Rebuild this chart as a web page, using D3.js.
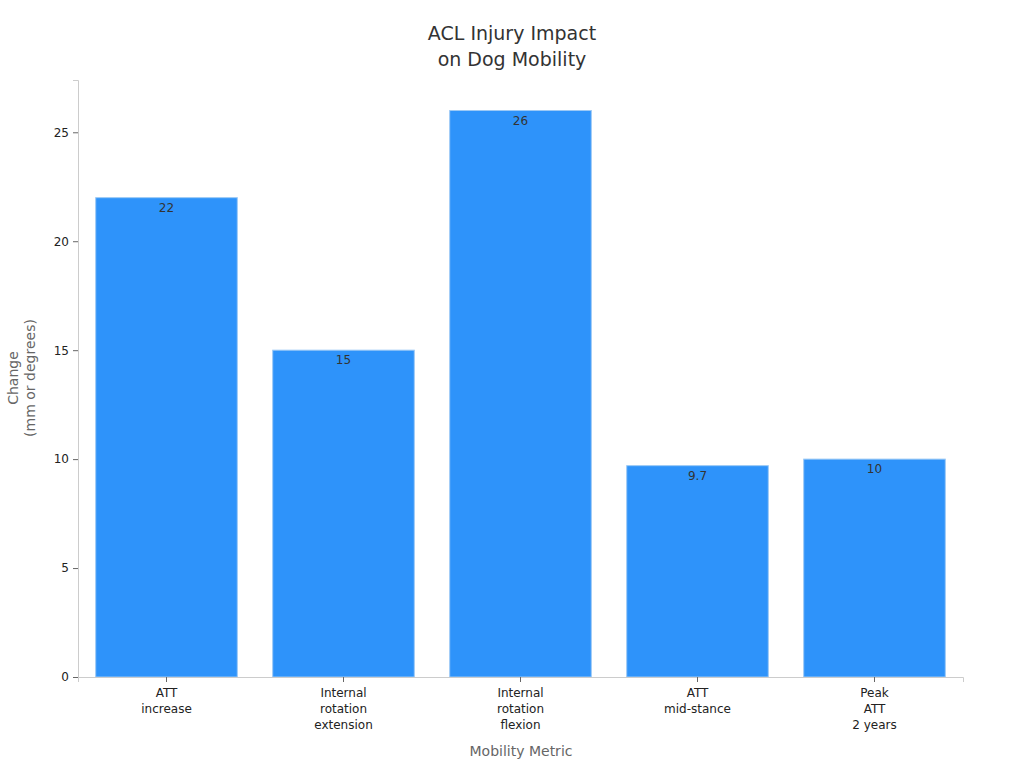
<!DOCTYPE html>
<html>
<head>
<meta charset="utf-8">
<script src="https://cdn.jsdelivr.net/npm/d3@7"></script>
<style>
body { margin: 0; background: #fff; font-family: "DejaVu Sans", sans-serif; }
</style>
</head>
<body>
<svg width="1024" height="768"></svg>
<script>
var categories = [["ATT", "increase"], ["Internal", "rotation", "extension"], ["Internal", "rotation", "flexion"], ["ATT", "mid-stance"], ["Peak", "ATT", "2 years"]];
var values = [22, 15, 26, 9.7, 10];
var yTicks = [0, 5, 10, 15, 20, 25];

var svg = d3.select("svg"),
    plotLeft = 78, plotRight = 963, plotTop = 80, plotBottom = 677;

var x = d3.scaleBand()
    .domain(d3.range(values.length))
    .range([plotLeft, plotRight])
    .paddingInner(0.2)
    .paddingOuter(0.1);
var y = d3.scaleLinear().domain([0, 27.4]).range([plotBottom, plotTop]);

// title
svg.append("text").attr("x", 512).attr("y", 40).attr("text-anchor", "middle")
    .attr("font-size", 19).attr("fill", "#333")
    .selectAll("tspan").data(["ACL Injury Impact", "on Dog Mobility"]).enter()
    .append("tspan").attr("x", 512).attr("dy", (d, i) => i ? 26 : 0).text(d => d);

// bars
svg.append("g").selectAll("rect").data(values).enter().append("rect")
    .attr("x", (d, i) => x(i))
    .attr("y", d => y(d))
    .attr("width", x.bandwidth())
    .attr("height", d => plotBottom - y(d))
    .attr("fill", "#2E93FA")
    .attr("stroke", "#9cc9f5")
    .attr("stroke-width", 1);

svg.append("g").selectAll("text").data(values).enter().append("text")
    .attr("x", (d, i) => x(i) + x.bandwidth() / 2)
    .attr("y", d => y(d) + 14)
    .attr("text-anchor", "middle")
    .attr("font-size", 12).attr("fill", "#333")
    .text(d => d);

// axes
var gy = svg.append("g").attr("transform", "translate(" + plotLeft + ",0)")
    .call(d3.axisLeft(y).tickValues(yTicks).tickSize(5).tickPadding(4));
gy.select(".domain").attr("stroke", "#ccc");
gy.selectAll(".tick line").attr("stroke", "#666");
gy.selectAll("text").attr("font-size", 12).attr("fill", "#222").attr("font-family", "DejaVu Sans");

var gx = svg.append("g").attr("transform", "translate(0," + plotBottom + ")")
    .call(d3.axisBottom(x).tickSize(5).tickFormat(""));
gx.select(".domain").attr("stroke", "#ccc");
gx.selectAll(".tick line").attr("stroke", "#666");
gx.selectAll(".tick").append("text")
    .attr("text-anchor", "middle").attr("font-size", 12).attr("fill", "#222")
    .attr("font-family", "DejaVu Sans")
    .selectAll("tspan").data((d, i) => categories[i]).enter().append("tspan")
    .attr("x", 0).attr("y", (d, i) => 20 + i * 16).text(d => d);

// axis labels
svg.append("text").attr("x", 521).attr("y", 756).attr("text-anchor", "middle")
    .attr("font-size", 14).attr("fill", "#666").text("Mobility Metric");
svg.append("text").attr("transform", "translate(18,378) rotate(-90)")
    .attr("text-anchor", "middle").attr("font-size", 14).attr("fill", "#666")
    .selectAll("tspan").data(["Change", "(mm or degrees)"]).enter().append("tspan")
    .attr("x", 0).attr("dy", (d, i) => i ? 17 : 0).text(d => d);
</script>
</body>
</html>
